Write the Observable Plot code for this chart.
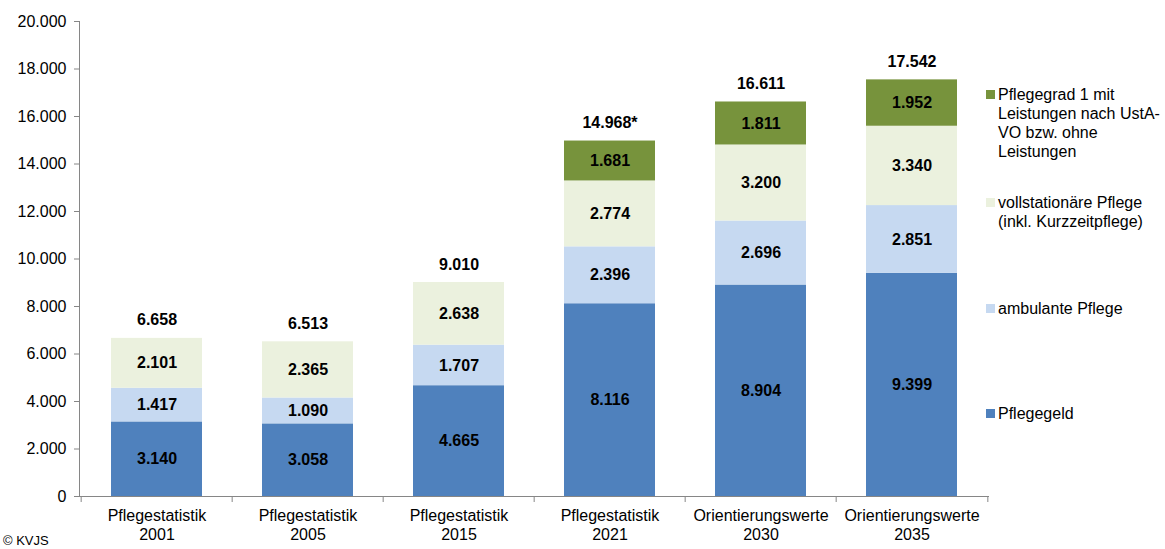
<!DOCTYPE html>
<html>
<head>
<meta charset="utf-8">
<script src="https://cdn.jsdelivr.net/npm/d3@7"></script>
<script src="https://cdn.jsdelivr.net/npm/@observablehq/plot@0.6"></script>
<style>
  html, body { margin: 0; padding: 0; background: #fff; }
  #wrap { position: relative; width: 1165px; height: 549px; overflow: hidden; font-family: "Liberation Sans", Arial, sans-serif; }
  #legend { position: absolute; left: 986px; top: 0; font-size: 16px; line-height: 19px; color: #000; }
  .item { position: absolute; left: 0; display: flex; white-space: nowrap; }
  .sw { width: 9px; height: 9px; margin-top: 5px; margin-right: 3px; flex: none; }
  #copy { position: absolute; left: 3px; top: 533px; font-size: 13px; line-height: 15px; color: #000; }
</style>
</head>
<body>
<div id="wrap">
  <div id="chart"></div>
  <div id="legend"></div>
  <div id="copy">© KVJS</div>
</div>
<script>
const categories = ["Pflegestatistik\n2001", "Pflegestatistik\n2005", "Pflegestatistik\n2015", "Pflegestatistik\n2021", "Orientierungswerte\n2030", "Orientierungswerte\n2035"];
const seriesNames = ["Pflegegeld", "ambulante Pflege", "vollstationäre Pflege (inkl. Kurzzeitpflege)", "Pflegegrad 1 mit Leistungen nach UstA-VO bzw. ohne Leistungen"];
const legendLines = [["Pflegegeld"], ["ambulante Pflege"], ["vollstationäre Pflege", "(inkl. Kurzzeitpflege)"], ["Pflegegrad 1 mit", "Leistungen nach UstA-", "VO bzw. ohne", "Leistungen"]];
const seriesColors = ["#4F81BD", "#C6D9F1", "#EBF1DE", "#77933C"];
const pflegegeld = [3140, 3058, 4665, 8116, 8904, 9399];
const ambulant = [1417, 1090, 1707, 2396, 2696, 2851];
const vollstationaer = [2101, 2365, 2638, 2774, 3200, 3340];
const pflegegrad1 = [null, null, null, 1681, 1811, 1952];
const totals = [6658, 6513, 9010, 14967, 16611, 17542];
const totalLabels = ["6.658", "6.513", "9.010", "14.968*", "16.611", "17.542"];
const yTicks = [0, 2000, 4000, 6000, 8000, 10000, 12000, 14000, 16000, 18000, 20000];

const de = d3.formatLocale({decimal: ",", thousands: ".", grouping: [3], currency: ["", " €"]});
const fmt = de.format(",d");

const seriesValues = [pflegegeld, ambulant, vollstationaer, pflegegrad1];
const rows = [];
categories.forEach((c, i) => {
  seriesValues.forEach((vals, s) => {
    if (vals[i] != null) rows.push({cat: c, series: seriesNames[s], value: vals[i]});
  });
});
const totalRows = categories.map((c, i) => ({cat: c, total: totals[i], label: totalLabels[i]}));

const W = 1165, H = 549, ML = 79, MR = 176, MT = 21, MB = 53;
const step = (W - ML - MR) / categories.length;
const axisColor = "#868686";

const chart = Plot.plot({
  width: W, height: H,
  marginLeft: ML, marginRight: MR, marginTop: MT, marginBottom: MB,
  style: {fontFamily: "'Liberation Sans', Arial, sans-serif", fontSize: "16px", color: "#000", background: "#fff"},
  x: {type: "band", domain: categories, paddingInner: 0.4, paddingOuter: 0.2, axis: null, label: null},
  y: {domain: [0, 20000], axis: null, label: null},
  color: {domain: seriesNames, range: seriesColors},
  marks: [
    Plot.barY(rows, Plot.stackY({x: "cat", y: "value", z: "series", fill: "series", order: seriesNames})),
    Plot.text(rows, Plot.stackY({x: "cat", y: "value", z: "series", order: seriesNames, text: d => fmt(d.value), fontWeight: "bold", fontSize: 16, fill: "#000"})),
    Plot.text(totalRows, {x: "cat", y: "total", text: "label", dy: -18, fontWeight: "bold", fontSize: 16, fill: "#000"}),
    Plot.frame({anchor: "left", stroke: axisColor}),
    Plot.ruleY([0], {stroke: axisColor}),
    Plot.axisY({ticks: yTicks, tickSize: 5, tickPadding: 8, tickFormat: fmt, stroke: axisColor, fill: "#000", fontSize: 16, label: null}),
    Plot.axisX({tickSize: 0, tickPadding: 11, lineHeight: 1.19, fill: "#000", fontSize: 16, label: null}),
    Plot.axisX({tickSize: 6, tickFormat: () => "", dx: -step / 2, stroke: axisColor, label: null}),
    Plot.axisX({ticks: [categories[categories.length - 1]], tickSize: 6, tickFormat: () => "", dx: step / 2, stroke: axisColor, label: null})
  ]
});
document.getElementById("chart").appendChild(chart);

const legendTops = [403.5, 298.5, 192.5, 84.5];
const legend = document.getElementById("legend");
seriesNames.forEach((s, i) => {
  const item = document.createElement("div");
  item.className = "item";
  item.style.top = legendTops[i] + "px";
  const sw = document.createElement("div");
  sw.className = "sw";
  sw.style.background = seriesColors[i];
  const tx = document.createElement("div");
  tx.innerHTML = legendLines[i].join("<br>");
  item.appendChild(sw);
  item.appendChild(tx);
  legend.appendChild(item);
});
</script>
</body>
</html>
